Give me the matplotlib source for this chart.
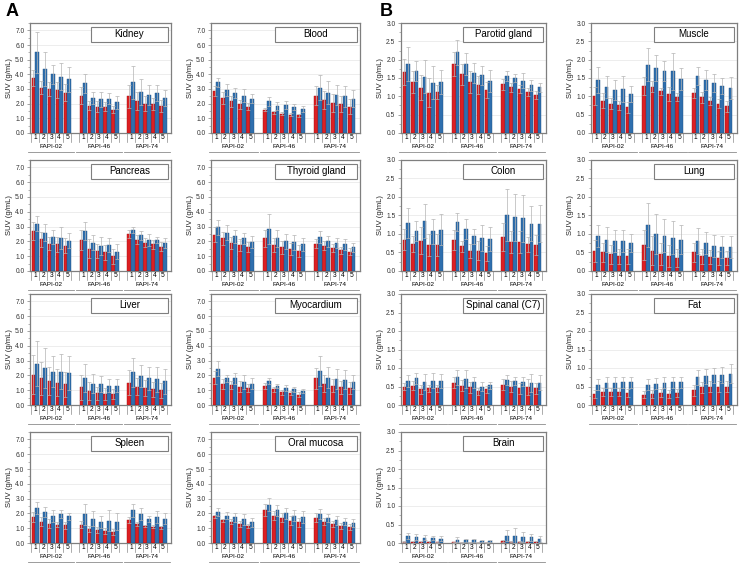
import numpy as np
import matplotlib.pyplot as plt
from matplotlib.patches import Rectangle
import matplotlib.transforms as mtransforms

plt.rcParams['font.family'] = ['Liberation Sans', 'DejaVu Sans']

# Tracers and time points (x axis)
tracers = ["FAPI-02", "FAPI-46", "FAPI-74"]
timepoints = ["1", "2", "3", "4", "5"]

# SUV values, one row per tracer, one column per time point
# red = SUVmean, blue = SUVmax, *_sd = error bars
kidney_mean = [[3.75, 3.10, 3.00, 2.95, 2.75], [2.55, 1.85, 1.80, 1.80, 1.60], [2.50, 2.20, 2.00, 2.00, 1.85]]
kidney_mean_sd = [[0.55, 0.45, 0.50, 0.55, 0.60], [0.60, 0.30, 0.35, 0.30, 0.25], [0.80, 0.60, 0.50, 0.40, 0.40]]
kidney_max = [[5.50, 4.35, 4.00, 3.85, 3.65], [3.40, 2.40, 2.30, 2.35, 2.10], [3.45, 2.80, 2.60, 2.70, 2.40]]
kidney_max_sd = [[1.40, 1.15, 0.65, 0.95, 0.85], [0.65, 0.40, 0.50, 0.40, 0.45], [1.10, 0.90, 0.70, 0.55, 0.55]]

blood_mean = [[2.85, 2.40, 2.15, 1.95, 1.80], [1.60, 1.40, 1.30, 1.25, 1.20], [2.55, 2.25, 2.05, 1.95, 1.80]]
blood_mean_sd = [[0.35, 0.40, 0.35, 0.30, 0.25], [0.10, 0.10, 0.10, 0.10, 0.10], [0.65, 0.60, 0.60, 0.55, 0.50]]
blood_max = [[3.45, 2.95, 2.75, 2.55, 2.35], [2.15, 1.85, 1.90, 1.75, 1.65], [3.10, 2.75, 2.60, 2.50, 2.35]]
blood_max_sd = [[0.30, 0.40, 0.35, 0.45, 0.30], [0.30, 0.25, 0.25, 0.20, 0.20], [0.85, 0.80, 0.70, 0.70, 0.55]]

pancreas_mean = [[2.70, 2.15, 1.85, 1.80, 1.70], [2.10, 1.50, 1.35, 1.25, 1.00], [2.50, 2.10, 1.90, 1.80, 1.65]]
pancreas_mean_sd = [[0.60, 0.50, 0.45, 0.50, 0.50], [0.65, 0.65, 0.50, 0.50, 0.50], [0.25, 0.30, 0.30, 0.30, 0.30]]
pancreas_max = [[3.20, 2.60, 2.30, 2.25, 2.05], [2.70, 1.90, 1.70, 1.75, 1.30], [2.75, 2.40, 2.10, 2.10, 1.90]]
pancreas_max_sd = [[0.50, 0.55, 0.45, 0.75, 0.50], [0.60, 0.50, 0.60, 0.50, 0.50], [0.20, 0.30, 0.40, 0.20, 0.35]]

thyroid_mean = [[2.45, 2.20, 1.90, 1.75, 1.60], [2.20, 1.75, 1.60, 1.50, 1.35], [1.85, 1.70, 1.55, 1.40, 1.30]]
thyroid_mean_sd = [[0.50, 0.45, 0.40, 0.40, 0.35], [0.60, 0.50, 0.45, 0.40, 0.40], [0.30, 0.30, 0.30, 0.25, 0.25]]
thyroid_max = [[2.95, 2.60, 2.35, 2.20, 1.95], [2.85, 2.20, 2.00, 1.95, 1.80], [2.30, 2.00, 1.90, 1.80, 1.60]]
thyroid_max_sd = [[0.50, 0.50, 0.45, 0.40, 0.40], [1.00, 0.60, 0.50, 0.50, 0.45], [0.40, 0.35, 0.35, 0.35, 0.30]]

liver_mean = [[2.05, 1.80, 1.60, 1.50, 1.40], [1.20, 0.95, 0.80, 0.75, 0.75], [1.50, 1.25, 1.15, 1.05, 1.00]]
liver_mean_sd = [[1.30, 1.10, 0.95, 0.90, 0.85], [0.85, 0.60, 0.45, 0.40, 0.35], [0.85, 0.60, 0.55, 0.50, 0.50]]
liver_max = [[2.80, 2.50, 2.25, 2.25, 2.15], [1.80, 1.45, 1.40, 1.30, 1.30], [2.20, 1.95, 1.80, 1.75, 1.60]]
liver_max_sd = [[1.50, 1.35, 1.05, 1.20, 1.15], [0.95, 0.65, 0.55, 0.45, 0.45], [1.00, 0.75, 0.80, 0.85, 0.85]]

myo_mean = [[1.85, 1.40, 1.35, 1.25, 1.15], [1.30, 1.05, 0.85, 0.80, 0.70], [1.80, 1.45, 1.30, 1.20, 1.15]]
myo_mean_sd = [[0.45, 0.35, 0.30, 0.35, 0.30], [0.20, 0.15, 0.15, 0.15, 0.15], [0.70, 0.55, 0.45, 0.45, 0.40]]
myo_max = [[2.45, 1.80, 1.80, 1.55, 1.45], [1.65, 1.30, 1.15, 1.05, 0.95], [2.30, 1.85, 1.75, 1.70, 1.55]]
myo_max_sd = [[0.50, 0.25, 0.35, 0.45, 0.40], [0.20, 0.15, 0.20, 0.15, 0.15], [1.00, 0.70, 0.70, 0.65, 0.50]]

spleen_mean = [[1.75, 1.45, 1.30, 1.25, 1.20], [1.25, 0.95, 0.85, 0.80, 0.75], [1.55, 1.30, 1.15, 1.10, 1.05]]
spleen_mean_sd = [[0.35, 0.30, 0.30, 0.20, 0.25], [0.25, 0.20, 0.20, 0.20, 0.20], [0.20, 0.15, 0.10, 0.10, 0.10]]
spleen_max = [[2.35, 2.10, 1.85, 1.95, 1.80], [1.95, 1.65, 1.40, 1.50, 1.45], [2.20, 1.95, 1.65, 1.75, 1.65]]
spleen_max_sd = [[0.40, 0.35, 0.40, 0.25, 0.25], [0.70, 0.50, 0.40, 0.70, 0.55], [0.45, 0.40, 0.20, 0.40, 0.35]]

oral_mean = [[1.80, 1.55, 1.45, 1.30, 1.15], [2.25, 1.85, 1.70, 1.50, 1.40], [1.70, 1.45, 1.30, 1.15, 1.10]]
oral_mean_sd = [[0.10, 0.10, 0.15, 0.20, 0.15], [0.40, 0.30, 0.30, 0.30, 0.30], [0.30, 0.25, 0.20, 0.20, 0.20]]
oral_max = [[2.10, 1.85, 1.75, 1.60, 1.40], [2.60, 2.20, 2.00, 1.85, 1.75], [1.95, 1.70, 1.55, 1.45, 1.35]]
oral_max_sd = [[0.25, 0.25, 0.30, 0.35, 0.30], [0.45, 0.35, 0.35, 0.35, 0.40], [0.35, 0.25, 0.30, 0.25, 0.25]]

parotid_mean = [[1.67, 1.40, 1.24, 1.10, 1.12], [1.88, 1.60, 1.40, 1.30, 1.17], [1.33, 1.25, 1.20, 1.12, 1.04]]
parotid_mean_sd = [[0.35, 0.30, 0.35, 0.40, 0.20], [0.33, 0.28, 0.30, 0.25, 0.22], [0.15, 0.12, 0.12, 0.10, 0.10]]
parotid_max = [[1.88, 1.70, 1.53, 1.37, 1.38], [2.20, 1.87, 1.64, 1.57, 1.43], [1.55, 1.50, 1.43, 1.30, 1.25]]
parotid_max_sd = [[0.47, 0.27, 0.45, 0.45, 0.33], [0.35, 0.30, 0.27, 0.27, 0.30], [0.13, 0.10, 0.20, 0.15, 0.12]]

muscle_mean = [[1.00, 0.88, 0.80, 0.76, 0.70], [1.28, 1.26, 1.14, 1.06, 0.98], [1.09, 0.97, 0.87, 0.80, 0.73]]
muscle_mean_sd = [[0.25, 0.20, 0.15, 0.12, 0.15], [0.25, 0.15, 0.10, 0.20, 0.12], [0.13, 0.15, 0.12, 0.12, 0.15]]
muscle_max = [[1.45, 1.25, 1.18, 1.20, 1.06], [1.86, 1.77, 1.70, 1.68, 1.46], [1.55, 1.45, 1.37, 1.28, 1.22]]
muscle_max_sd = [[0.35, 0.30, 0.27, 0.35, 0.22], [0.45, 0.35, 0.27, 0.50, 0.30], [0.25, 0.27, 0.25, 0.22, 0.30]]

colon_mean = [[0.85, 0.72, 0.82, 0.70, 0.70], [0.83, 0.67, 0.54, 0.55, 0.48], [0.92, 0.78, 0.78, 0.72, 0.70]]
colon_mean_sd = [[0.28, 0.22, 0.37, 0.30, 0.30], [0.27, 0.15, 0.20, 0.25, 0.20], [0.38, 0.30, 0.30, 0.20, 0.27]]
colon_max = [[1.30, 1.08, 1.35, 1.07, 1.12], [1.33, 1.13, 0.94, 0.89, 0.86], [1.52, 1.45, 1.42, 1.28, 1.28]]
colon_max_sd = [[0.40, 0.27, 0.47, 0.33, 0.43], [0.24, 0.27, 0.20, 0.35, 0.32], [0.70, 0.63, 0.63, 0.47, 0.50]]

lung_mean = [[0.55, 0.50, 0.45, 0.40, 0.40], [0.70, 0.55, 0.45, 0.40, 0.35], [0.50, 0.40, 0.38, 0.35, 0.35]]
lung_mean_sd = [[0.30, 0.25, 0.25, 0.20, 0.20], [0.40, 0.40, 0.30, 0.30, 0.25], [0.25, 0.20, 0.20, 0.20, 0.20]]
lung_max = [[0.95, 0.85, 0.80, 0.80, 0.75], [1.25, 1.00, 0.95, 0.90, 0.85], [0.80, 0.75, 0.68, 0.65, 0.65]]
lung_max_sd = [[0.30, 0.35, 0.30, 0.30, 0.25], [0.60, 0.55, 0.45, 0.45, 0.40], [0.35, 0.30, 0.30, 0.30, 0.30]]

spinal_mean = [[0.50, 0.52, 0.43, 0.45, 0.45], [0.60, 0.52, 0.48, 0.37, 0.42], [0.55, 0.50, 0.45, 0.48, 0.45]]
spinal_mean_sd = [[0.10, 0.12, 0.12, 0.10, 0.10], [0.15, 0.15, 0.15, 0.10, 0.10], [0.15, 0.15, 0.15, 0.22, 0.15]]
spinal_max = [[0.65, 0.72, 0.62, 0.66, 0.65], [0.75, 0.70, 0.62, 0.50, 0.53], [0.68, 0.65, 0.63, 0.60, 0.60]]
spinal_max_sd = [[0.15, 0.14, 0.22, 0.20, 0.18], [0.20, 0.25, 0.15, 0.12, 0.10], [0.13, 0.12, 0.12, 0.25, 0.20]]

fat_mean = [[0.30, 0.35, 0.35, 0.35, 0.32], [0.28, 0.30, 0.32, 0.30, 0.32], [0.40, 0.48, 0.50, 0.50, 0.50]]
fat_mean_sd = [[0.10, 0.10, 0.10, 0.10, 0.10], [0.10, 0.10, 0.10, 0.10, 0.10], [0.15, 0.15, 0.15, 0.15, 0.15]]
fat_max = [[0.55, 0.60, 0.60, 0.62, 0.62], [0.55, 0.58, 0.60, 0.62, 0.62], [0.75, 0.78, 0.80, 0.82, 0.85]]
fat_max_sd = [[0.15, 0.15, 0.15, 0.15, 0.15], [0.15, 0.15, 0.15, 0.15, 0.15], [0.20, 0.20, 0.20, 0.22, 0.25]]

brain_mean = [[0.04, 0.03, 0.03, 0.03, 0.02], [0.02, 0.01, 0.01, 0.01, 0.01], [0.05, 0.04, 0.04, 0.03, 0.03]]
brain_mean_sd = [[0.02, 0.02, 0.02, 0.02, 0.02], [0.01, 0.01, 0.01, 0.01, 0.01], [0.02, 0.02, 0.02, 0.02, 0.02]]
brain_max = [[0.18, 0.16, 0.14, 0.13, 0.12], [0.09, 0.07, 0.08, 0.06, 0.06], [0.20, 0.20, 0.17, 0.15, 0.11]]
brain_max_sd = [[0.08, 0.08, 0.07, 0.06, 0.07], [0.07, 0.04, 0.04, 0.02, 0.02], [0.15, 0.20, 0.13, 0.10, 0.07]]

RED = "#dc1f22"
BLUE = "#2f6fae"
GRIS = "#b4b4b4"
AXE = "#7f7f7f"

W, H = 740, 563
fig = plt.figure(figsize=(W / 100, H / 100), dpi=100)

# pixel layout of the grid
col_left = [30, 211, 401, 591]
col_width = [141, 149, 145, 146]
row_top = [23, 160, 294, 432]
row_bot = [133, 271, 405, 543]


def draw_panel(col, row, name, mean, mean_sd, smax, smax_sd, ymax, ystep):
    l, w = col_left[col], col_width[col]
    t, b = row_top[row], row_bot[row]
    h = b - t
    ax = fig.add_axes([l / W, 1 - b / H, w / W, h / H])

    x = np.array([g * 6 + i + 0.5 for g in range(3) for i in range(5)])
    m = np.array(mean).ravel()
    ms = np.array(mean_sd).ravel()
    mx = np.array(smax).ravel()
    mxs = np.array(smax_sd).ravel()
    err = dict(ecolor=GRIS, elinewidth=0.5, capsize=1.2, capthick=0.5)
    ax.bar(x - 0.225, m, 0.45, color=RED, edgecolor="#a01010", linewidth=0.3,
           yerr=ms, error_kw=err, zorder=3)
    ax.bar(x + 0.225, mx, 0.45, color=BLUE, edgecolor="#1f4f80", linewidth=0.3,
           yerr=mxs, error_kw=err, zorder=3)

    ax.set_xlim(-0.15, 17.5)
    ax.set_ylim(0, ymax)
    ticks = np.arange(0, ymax + 1e-6, ystep)
    if ymax > 5:
        ticks = ticks[ticks <= 7.0]
    ax.set_yticks(ticks)
    ax.set_yticklabels([f"{v:.1f}" for v in ticks], fontsize=4.8, color="#333333")
    ax.set_yticks(np.arange(0, ymax + 1e-6, ystep / 2), minor=True)
    ax.tick_params(axis="y", which="major", length=2.5, width=0.5, color=AXE, pad=1.5)
    ax.tick_params(axis="y", which="minor", length=1.5, width=0.4, color=AXE)
    ax.set_xticks([])
    for v in ticks[1:]:
        ax.axhline(v, color="#e6e6e6", lw=0.5, zorder=0)
    for s in ax.spines.values():
        s.set_color(AXE)
        s.set_linewidth(0.9)
    ax.set_ylabel("SUV (g/mL)", fontsize=5.5, labelpad=1.5, color="#222222")

    # organ name box
    ax.add_patch(Rectangle((0.43, 0.83), 0.55, 0.135, transform=ax.transAxes,
                           facecolor="white", edgecolor=AXE, lw=0.8, zorder=5))
    ax.text(0.705, 0.897, name, transform=ax.transAxes, ha="center", va="center",
            fontsize=7, zorder=6)

    # two level x axis: time points, then tracer
    trans = mtransforms.blended_transform_factory(ax.transData, ax.transAxes)
    for g, tr in enumerate(tracers):
        for i in range(6):
            xb = g * 6 + i
            ax.plot([xb, xb], [0, -9 / h], transform=trans, color="#8c8c8c",
                    lw=0.5, clip_on=False)
        for i, tp in enumerate(timepoints):
            ax.text(g * 6 + i + 0.5, -4.8 / h, tp, transform=trans, ha="center",
                    va="center", fontsize=4.8, clip_on=False)
        ax.text(g * 6 + 2.5, -14 / h, tr, transform=trans, ha="center",
                va="center", fontsize=4.6, clip_on=False)
        ax.plot([g * 6 - 0.4, g * 6 + 5.4], [-19 / h, -19 / h], transform=trans,
                color="#8c8c8c", lw=0.6, clip_on=False)
    return ax


# Panel A (0 - 7.0)
draw_panel(0, 0, "Kidney", kidney_mean, kidney_mean_sd, kidney_max, kidney_max_sd, 7.5, 1.0)
draw_panel(1, 0, "Blood", blood_mean, blood_mean_sd, blood_max, blood_max_sd, 7.5, 1.0)
draw_panel(0, 1, "Pancreas", pancreas_mean, pancreas_mean_sd, pancreas_max, pancreas_max_sd, 7.5, 1.0)
draw_panel(1, 1, "Thyroid gland", thyroid_mean, thyroid_mean_sd, thyroid_max, thyroid_max_sd, 7.5, 1.0)
draw_panel(0, 2, "Liver", liver_mean, liver_mean_sd, liver_max, liver_max_sd, 7.5, 1.0)
draw_panel(1, 2, "Myocardium", myo_mean, myo_mean_sd, myo_max, myo_max_sd, 7.5, 1.0)
draw_panel(0, 3, "Spleen", spleen_mean, spleen_mean_sd, spleen_max, spleen_max_sd, 7.5, 1.0)
draw_panel(1, 3, "Oral mucosa", oral_mean, oral_mean_sd, oral_max, oral_max_sd, 7.5, 1.0)

# Panel B (0 - 3.0)
draw_panel(2, 0, "Parotid gland", parotid_mean, parotid_mean_sd, parotid_max, parotid_max_sd, 3.0, 0.5)
draw_panel(3, 0, "Muscle", muscle_mean, muscle_mean_sd, muscle_max, muscle_max_sd, 3.0, 0.5)
draw_panel(2, 1, "Colon", colon_mean, colon_mean_sd, colon_max, colon_max_sd, 3.0, 0.5)
draw_panel(3, 1, "Lung", lung_mean, lung_mean_sd, lung_max, lung_max_sd, 3.0, 0.5)
draw_panel(2, 2, "Spinal canal (C7)", spinal_mean, spinal_mean_sd, spinal_max, spinal_max_sd, 3.0, 0.5)
draw_panel(3, 2, "Fat", fat_mean, fat_mean_sd, fat_max, fat_max_sd, 3.0, 0.5)
draw_panel(2, 3, "Brain", brain_mean, brain_mean_sd, brain_max, brain_max_sd, 3.0, 0.5)

fig.text(6 / W, 1 - 11 / H, "A", fontsize=13, fontweight="bold", va="center")
fig.text(380 / W, 1 - 11 / H, "B", fontsize=13, fontweight="bold", va="center")

fig.savefig("out.png", dpi=100)
